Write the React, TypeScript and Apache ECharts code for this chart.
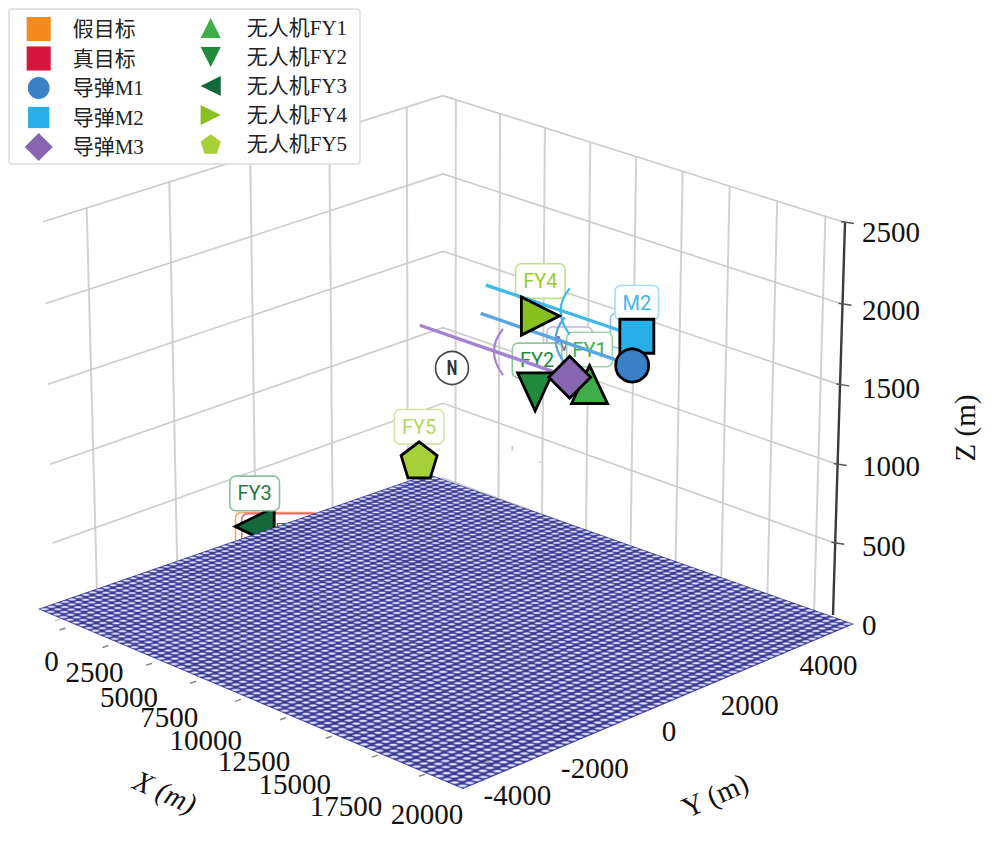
import React, { useEffect, useRef } from "react";
import * as echarts from "echarts";

// ---------- data ----------
const xTicks = [0, 2500, 5000, 7500, 10000, 12500, 15000, 17500, 20000];
const yTicks = [-4000, -2000, 0, 2000, 4000];
const zTicks = [0, 500, 1000, 1500, 2000, 2500];

const fakeTarget = [0, 0, 0];
const trueTarget = [0, 200, 0];
const m1 = [20000, 0, 2010];
const m2 = [19000, 600, 2095];
const m3 = [18000, -600, 1910];
const fy1 = [17800, 0, 1806];
const fy2 = [12000, 1400, 1403];
const fy3 = [6000, -2950, 700];
const fy4 = [11000, 2000, 1785];
const fy5 = [13000, -2000, 1325];
const trailLength = [8000, 8000, 8000];

// ---------- layout of the projected box ----------
const X_LIM = [-730, 21010];
const Y_LIM = [-5040, 4950];
const Z_MAX = 2500;
const BOX = { L: [55, 621], F: [446, 780], R: [833, 621], B: [443, 478] };
const MESH = { L: [38, 609], F: [463, 789], R: [854, 624], B: [428, 474] };
const Z_TOP_RIGHT = [845, 222.6];
const VERTICAL_VP = [444, 13520];
const MESH_CELLS = 61;

const SERIF = '"Liberation Serif","Noto Sans CJK SC",serif';
const SANS = 'Roboto,"Liberation Sans",sans-serif';

function quad(q: any) {
  const [x0, y0] = q.L, [x1, y1] = q.F, [x2, y2] = q.R, [x3, y3] = q.B;
  const dx1 = x1 - x2, dx2 = x3 - x2, sx = x0 - x1 + x2 - x3;
  const dy1 = y1 - y2, dy2 = y3 - y2, sy = y0 - y1 + y2 - y3;
  const den = dx1 * dy2 - dx2 * dy1;
  const g = (sx * dy2 - dx2 * sy) / den;
  const h = (dx1 * sy - sx * dy1) / den;
  const a = x1 - x0 + g * x1, b = x3 - x0 + h * x3, c = x0;
  const d = y1 - y0 + g * y1, e = y3 - y0 + h * y3, f = y0;
  return (u: number, v: number) => [a * u + b * v + c, d * u + e * v + f, g * u + h * v + 1];
}
const boxH = quad(BOX);
const meshH = quad(MESH);
const uOf = (x: number) => (x - X_LIM[0]) / (X_LIM[1] - X_LIM[0]);
const vOf = (y: number) => (y - Y_LIM[0]) / (Y_LIM[1] - Y_LIM[0]);
const zScale = (() => {
  const [, Y, W] = boxH(1, 1);
  return (Y - Z_TOP_RIGHT[1] * W) / (Z_TOP_RIGHT[1] - VERTICAL_VP[1]) / Z_MAX;
})();
function project(x: number, y: number, z: number) {
  const [X, Y, W] = boxH(uOf(x), vOf(y));
  const s = z * zScale;
  const w = W + s;
  return [(X + s * VERTICAL_VP[0]) / w, (Y + s * VERTICAL_VP[1]) / w];
}
const meshPt = (u: number, v: number) => {
  const [X, Y, W] = meshH(u, v);
  return [X / W, Y / W];
};

// tick label placement relative to the tick on the floor edge
const X_LABEL_OFFSETS = [[-16, 35], [-16, 28], [-25, 36], [-29, 38], [-37, 43], [-34, 45], [-39, 50], [-34, 53], [0, 42]];
const Y_LABEL_OFFSETS = [[29, 32], [26.5, 38], [22.5, 33], [26.5, 38.5], [30.5, 30]];
const Z_LABEL_Y = [625, 546, 466, 388, 310, 232];

const overlay = (z: number, build: (api: any) => any[]) => ({
  type: "custom",
  coordinateSystem: "cartesian2d",
  data: [[0, 0]],
  encode: { x: 0, y: 1 },
  clip: false,
  silent: true,
  z,
  renderItem: (_: any, api: any) => ({ type: "group", children: build(api) }),
});
const seg = (a: number[], b: number[], stroke: string, lineWidth: number, opacity = 1) => ({
  type: "line",
  shape: { x1: a[0], y1: a[1], x2: b[0], y2: b[1] },
  style: { stroke, lineWidth, opacity },
});
const label = (api: any, p: number[], text: string, size = 29, rotation = 0, align = "center", style = "normal") => {
  const c = api.coord(p);
  return {
    type: "text",
    x: c[0],
    y: c[1],
    rotation,
    style: { text, x: 0, y: 0, fill: "#111", fontSize: size, fontFamily: SERIF, fontStyle: style, align, verticalAlign: "middle" },
  };
};

const wallsSeries = overlay(1, (api) => {
  const out: any[] = [];
  const P = (x: number, y: number, z: number) => api.coord(project(x, y, z));
  yTicks.forEach((y) => out.push(seg(P(X_LIM[0], y, 0), P(X_LIM[0], y, Z_MAX), "#d2d2d2", 2)));
  xTicks.forEach((x) => out.push(seg(P(x, Y_LIM[1], 0), P(x, Y_LIM[1], Z_MAX), "#d2d2d2", 2)));
  zTicks.forEach((z) => {
    out.push({
      type: "polyline",
      shape: { points: [P(X_LIM[0], Y_LIM[0], z), P(X_LIM[0], Y_LIM[1], z), P(X_LIM[1], Y_LIM[1], z)] },
      style: { stroke: "#cbcbcb", lineWidth: 1.6, fill: "none" },
    });
  });
  return out;
});

const meshSeries = overlay(5, (api) => {
  const corner = [meshPt(0, 0), meshPt(1, 0), meshPt(1, 1), meshPt(0, 1)].map((p) => api.coord(p));
  const out: any[] = [{ type: "polygon", shape: { points: corner }, style: { fill: "rgba(48,46,138,0.94)" } }];
  const n = MESH_CELLS;
  for (let i = 0; i < n; i++) {
    for (let j = 0; j < n; j++) {
      const left = api.coord(meshPt(i / n, j / n));
      const bottom = api.coord(meshPt((i + 1) / n, j / n));
      const right = api.coord(meshPt((i + 1) / n, (j + 1) / n));
      const top = api.coord(meshPt(i / n, (j + 1) / n));
      const cx = (left[0] + right[0]) / 2;
      const cy = (top[1] + bottom[1]) / 2;
      const w = right[0] - left[0];
      const h = bottom[1] - top[1];
      out.push({ type: "ellipse", shape: { cx, cy, rx: w * 0.34, ry: h * 0.25 }, style: { fill: "#8a8dd0" } });
      out.push({ type: "ellipse", shape: { cx, cy, rx: w * 0.23, ry: h * 0.14 }, style: { fill: "#e4e6f9" } });
    }
  }
  return out;
});

const axisSeries = overlay(6, (api) => {
  const out: any[] = [];
  const P = (x: number, y: number, z: number) => api.coord(project(x, y, z));
  const a = P(X_LIM[1], Y_LIM[1], 0);
  const b = P(X_LIM[1], Y_LIM[1], Z_MAX);
  out.push(seg([a[0], a[1] - 6], b, "#3a3a3a", 2.4));
  zTicks.slice(1).forEach((z) => {
    const c = P(X_LIM[1], Y_LIM[1], z);
    out.push(seg([c[0] - 4, c[1] - 1], [c[0] + 9, c[1] + 1], "#555", 1.5));
  });
  xTicks.forEach((x) => {
    const c = P(x, Y_LIM[0], 0);
    out.push(seg([c[0] - 2, c[1] + 2], [c[0] - 8, c[1] + 4], "#555", 1.5, 0.7));
  });
  yTicks.forEach((y) => {
    const c = P(X_LIM[1], y, 0);
    out.push(seg([c[0] - 5, c[1] - 3], [c[0] + 5, c[1] + 2], "#23235f", 1.5, 0.45));
  });
  return out;
});

const tickLabelSeries = overlay(7, (api) => {
  const out: any[] = [];
  xTicks.forEach((x, i) => {
    const c = project(x, Y_LIM[0], 0);
    out.push(label(api, [c[0] + X_LABEL_OFFSETS[i][0], c[1] + X_LABEL_OFFSETS[i][1]], String(x)));
  });
  yTicks.forEach((y, i) => {
    const c = project(X_LIM[1], y, 0);
    out.push(label(api, [c[0] + Y_LABEL_OFFSETS[i][0], c[1] + Y_LABEL_OFFSETS[i][1]], String(y)));
  });
  zTicks.forEach((z, i) => {
    out.push(label(api, [862, Z_LABEL_Y[i]], String(z), 29, 0, "left"));
  });
  out.push(label(api, [165, 792], "X (m)", 29, -0.42, "center", "italic"));
  out.push(label(api, [715, 795], "Y (m)", 29, 0.42));
  out.push(label(api, [965, 428], "Z (m)", 29, Math.PI / 2));
  return out;
});

const missiles = [
  { pos: m1, color: "#5aa6e2", len: trailLength[0] },
  { pos: m2, color: "#3fb9ea", len: trailLength[1] },
  { pos: m3, color: "#a383d2", len: trailLength[2] },
];
const trailSeries = overlay(9, (api) => {
  const out: any[] = [];
  missiles.forEach(({ pos, color, len }) => {
    const a = api.coord(project(pos[0], pos[1], pos[2]));
    const b = api.coord(project(pos[0] - len, pos[1], pos[2]));
    const mid = api.coord(project(pos[0] - len / 2, pos[1], pos[2]));
    out.push(seg(a, b, color, 3.4));
    out.push({
      type: "bezierCurve",
      shape: { x1: mid[0] + 9, y1: mid[1] - 22, cpx1: mid[0] - 9, cpy1: mid[1], x2: mid[0] + 9, y2: mid[1] + 24 },
      style: { stroke: color, lineWidth: 2.2, fill: "none" },
    });
  });
  return out;
});

// legend icons: 28px box = 100 units, with a zero-length stroke at two corners that keeps the box
const frame = "M0 0 L0 0 M100 100 L100 100 ";
const iconSquare = (half: number) =>
  `path://${frame}M${50 - half} ${50 - half} L${50 + half} ${50 - half} L${50 + half} ${50 + half} L${50 - half} ${50 + half} Z`;
const iconCircle = (r: number) => `path://${frame}M${50 - r} 50 A${r} ${r} 0 1 1 ${50 + r} 50 A${r} ${r} 0 1 1 ${50 - r} 50 Z`;
const iconTri = (pts: number[][]) =>
  `path://${frame}M${pts[0][0]} ${pts[0][1]} L${pts[1][0]} ${pts[1][1]} L${pts[2][0]} ${pts[2][1]} Z`;
const legendIcons: Record<string, string> = {
  假目标: iconSquare(43),
  真目标: iconSquare(43),
  导弹M1: iconCircle(39),
  导弹M2: iconSquare(38),
  导弹M3: iconTri([[0, 50], [50, 0], [100, 50]]) + " M0 50 L50 100 L100 50 Z",
  无人机FY1: iconTri([[50, 14], [86, 86], [14, 86]]),
  无人机FY2: iconTri([[14, 14], [86, 14], [50, 86]]),
  无人机FY3: iconTri([[14, 50], [86, 14], [86, 86]]),
  无人机FY4: iconTri([[14, 14], [86, 50], [14, 86]]),
  无人机FY5: `path://${frame}M50 15 L86 42 L72 85 L28 85 L14 42 Z`,
};

const pentagon = "path://M50 0 L100 38 L81 100 L19 100 L0 38 Z";
const markerBase = { borderColor: "#000", borderWidth: 2.8, opacity: 1 };
const marker = (name: string, p: number[], color: string, symbol: string, size: any, rotate: number, z: number) => ({
  type: "scatter",
  name,
  coordinateSystem: "cartesian2d",
  data: [project(p[0], p[1], p[2])],
  symbol,
  symbolSize: size,
  symbolRotate: rotate,
  silent: true,
  z,
  clip: false,
  itemStyle: { color, ...markerBase },
});

const tag = (p: number[], text: string, color: string, border: string, distance: number, offset = [0, 0], width = 34) => ({
  value: project(p[0], p[1], p[2]),
  label: {
    show: true,
    position: "top",
    distance,
    offset,
    formatter: text,
    color,
    fontFamily: SANS,
    fontWeight: 400,
    fontSize: 20,
    backgroundColor: "#fff",
    borderColor: border,
    borderWidth: 1.6,
    borderRadius: 5,
    padding: [4, 7],
    width,
    height: 25,
    lineHeight: 25,
    align: "center",
    verticalAlign: "middle",
  },
});
const tagSeries = (data: any[], z: number) => ({
  type: "scatter",
  data,
  symbolSize: 0,
  silent: true,
  clip: false,
  z,
  itemStyle: { opacity: 1 },
});

const legendNames1 = ["假目标", "真目标", "导弹M1", "导弹M2", "导弹M3"];
const legendNames2 = ["无人机FY1", "无人机FY2", "无人机FY3", "无人机FY4", "无人机FY5"];
const legendBase = {
  orient: "vertical",
  padding: 0,
  itemWidth: 28,
  itemHeight: 28,
  z: 30,
  selectedMode: false,
  itemStyle: { borderWidth: 0 },
  textStyle: { fontFamily: SERIF, fontSize: 21, color: "#222" },
};
const legendData = (names: string[]) => names.map((name) => ({ name, icon: legendIcons[name] }));

export default function App() {
  const ref = useRef<HTMLDivElement>(null);
  useEffect(() => {
    const chart = echarts.init(ref.current!, undefined, { renderer: "svg" });
    chart.setOption({
      animation: false,
      backgroundColor: "#fff",
      grid: { left: 0, right: 0, top: 0, bottom: 0 },
      xAxis: { type: "value", min: 0, max: 992, show: false },
      yAxis: { type: "value", min: 0, max: 852, inverse: true, show: false },
      legend: [
        { ...legendBase, left: 24.7, top: 15, itemGap: 1.5, data: legendData(legendNames1), textStyle: { ...legendBase.textStyle, padding: [0, 0, 0, 15] } },
        { ...legendBase, left: 196.7, top: 14, itemGap: 1, data: legendData(legendNames2), textStyle: { ...legendBase.textStyle, padding: [0, 0, 0, 17] } },
      ],
      graphic: [
        {
          type: "rect",
          z: 20,
          shape: { x: 9, y: 9, width: 351, height: 155, r: 3 },
          style: { fill: "rgba(255,255,255,0.92)", stroke: "#dcdcdc", lineWidth: 1.5 },
        },
        { type: "circle", z: 8, shape: { cx: 452, cy: 368, r: 16.5 }, style: { fill: "#fff", stroke: "#444", lineWidth: 1.6 } },
        {
          type: "text",
          z: 8,
          x: 452,
          y: 368,
          scaleX: 0.75,
          style: { text: "N", fill: "#333", fontFamily: SANS, fontWeight: "bold", fontSize: 20, align: "center", verticalAlign: "middle" },
        },
        { type: "rect", z: 2, shape: { x: 511.5, y: 446, width: 1.5, height: 5 }, style: { fill: "#ccc" } },
        { type: "rect", z: 2, shape: { x: 539, y: 461, width: 3, height: 2 }, style: { fill: "#ddd" } },
      ],
      series: [
        wallsSeries,
        tagSeries([tag(fakeTarget, "假目标", "#f5963a", "#f5a55a", 22, [8, 0], 66), tag(trueTarget, "真目标", "#d92f50", "#e8677f", 18, [8, 0], 69)], 2),
        marker("假目标", fakeTarget, "#f58a1f", "rect", 3, 0, 3),
        marker("真目标", trueTarget, "#d4163c", "rect", 3, 0, 3),
        marker("无人机FY3", fy3, "#13693a", "triangle", [38, 39], 90, 4),
        meshSeries,
        axisSeries,
        tickLabelSeries,
        tagSeries(
          [
            tag(m1, "M1", "#3a80c8", "#8fc0ea", 35, [0, 0], 28),
            tag(m3, "M3", "#8a63b0", "#c6b2e0", 33, [0, 0], 30),
            tag(fy1, "FY1", "#3fae49", "#9fd6a4", 35, [0, 0], 30),
            tag(fy2, "FY2", "#1e8a3c", "#90c89c", 31.5, [2, 0]),
            tag(fy3, "FY3", "#1e7a42", "#8fbf9f", 33),
            tag(fy4, "FY4", "#9ccb3b", "#bfe08a", 35),
            tag(fy5, "FY5", "#b5d65f", "#d2e6a0", 33),
            tag(m2, "M2", "#3fb9ea", "#a5dff5", 33.5, [0, 0], 28),
          ],
          8
        ),
        trailSeries,
        marker("无人机FY1", fy1, "#3fae49", "triangle", [36, 38], 0, 10),
        marker("无人机FY2", fy2, "#1f8a3b", "triangle", [35, 38], 180, 10),
        marker("无人机FY4", fy4, "#88c020", "triangle", [38, 38], -90, 10),
        marker("无人机FY5", fy5, "#a6cf38", pentagon, 36, 0, 10),
        marker("导弹M2", m2, "#29aee6", "rect", 34, 0, 11),
        marker("导弹M1", m1, "#3a80c8", "circle", 33, 0, 12),
        marker("导弹M3", m3, "#8766b0", "diamond", 42, 0, 12),
      ],
    });
    return () => chart.dispose();
  }, []);
  return <div ref={ref} style={{ position: "absolute", left: 0, top: 0, width: 992, height: 852 }} />;
}
